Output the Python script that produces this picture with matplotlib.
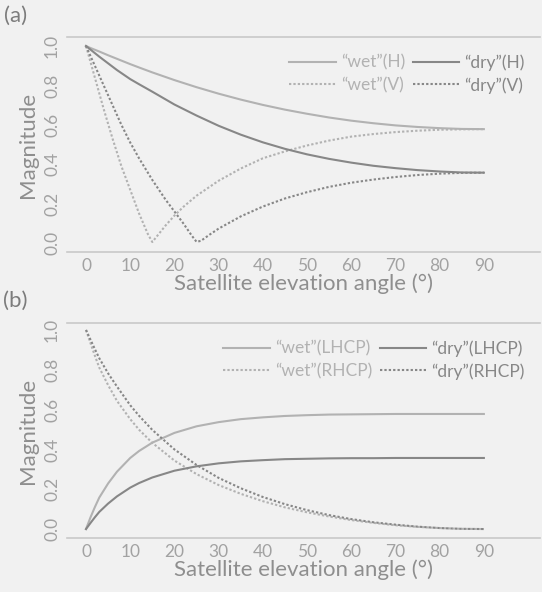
import matplotlib
matplotlib.use("Agg")
import matplotlib.pyplot as plt

# ---------------- data ----------------
ang_h = [0, 1, 2, 3, 5, 7, 10, 12, 15, 20, 25, 30, 35, 40, 45, 50, 55, 60, 65, 70, 75, 80, 85, 90]
wet_h = [1.0, .99, .981, .972, .953, .935, .908, .891, .866, .827, .791, .758, .728, .701, .677,
         .656, .637, .621, .608, .597, .589, .583, .579, .578]
dry_h = [1.0, .982, .964, .946, .912, .878, .832, .806, .768, .703, .647, .595, .550, .511, .478,
         .450, .427, .408, .392, .380, .370, .363, .358, .357]

ang_wv = [0, 2, 4, 6, 8, 10, 12, 14, 15, 16, 18, 20, 22, 25, 30, 35, 40, 45, 50, 55, 60, 65,
          70, 75, 80, 85, 90]
wet_v = [1.0, .84, .68, .53, .39, .27, .15, .045, .005, .033, .089, .139, .183, .24, .316,
         .378, .43, .465, .495, .52, .54, .553, .563, .57, .575, .577, .578]

ang_dv = [0, 2, 5, 8, 10, 12, 15, 18, 20, 22, 24, 25, 26, 28, 30, 35, 40, 45, 50, 55, 60, 65,
          70, 75, 80, 85, 90]
dry_v = [1.0, .90, .75, .60, .51, .43, .32, .22, .16, .10, .035, .006, .011, .043, .073,
         .135, .185, .226, .258, .285, .306, .322, .335, .345, .352, .356, .357]

ang_cp = [0, 1, 2, 3, 5, 7, 10, 12, 15, 20, 25, 30, 35, 40, 45, 50, 55, 60, 65, 70, 75, 80, 85, 90]
wet_lhcp = [0.0, .058, .110, .158, .229, .288, .357, .392, .434, .483, .516, .537, .552, .561,
            .568, .572, .575, .576, .577, .578, .578, .578, .578, .578]
wet_rhcp = [1.0, .935, .871, .811, .723, .644, .552, .499, .433, .344, .276, .221, .177, .140,
            .109, .084, .063, .045, .031, .019, .011, .005, .001, 0.0]
dry_lhcp = [0.0, .030, .059, .086, .128, .164, .208, .231, .259, .293, .315, .330, .340, .346,
            .351, .353, .355, .356, .356, .357, .357, .357, .357, .357]
dry_rhcp = [1.0, .952, .904, .858, .782, .716, .622, .569, .498, .400, .322, .257, .205, .161,
            .125, .095, .070, .050, .034, .022, .012, .005, .001, 0.0]

xticks = [0, 10, 20, 30, 40, 50, 60, 70, 80, 90]
yticks = [0.0, 0.2, 0.4, 0.6, 0.8, 1.0]
xlabel = "Satellite elevation angle (°)"
ylabel = "Magnitude"

# ---------------- style ----------------
FONT = ["Lato", "DejaVu Sans"]
plt.rcParams["font.family"] = FONT
BG = "#f1f1f1"
WET = "#b2b2b2"
DRY = "#878787"
TICKC = "#a2a2a2"
LABC = "#8e8e8e"
GRID = "#c9c9c9"

W, H = 542, 592
fig = plt.figure(figsize=(W / 100, H / 100), dpi=100, facecolor=BG)


def px_axes(left, top, right, bottom):
    return fig.add_axes([left / W, 1 - bottom / H, (right - left) / W, (bottom - top) / H])


def style(ax, ylim):
    ax.set_facecolor(BG)
    ax.set_xlim(-4.3, 102.7)
    ax.set_ylim(*ylim)
    for s in ("left", "right"):
        ax.spines[s].set_visible(False)
    for s in ("top", "bottom"):
        ax.spines[s].set_color(GRID)
        ax.spines[s].set_linewidth(1.2)
    ax.set_xticks(xticks)
    ax.set_xticklabels([str(t) for t in xticks])
    ax.set_yticks(yticks)
    ax.set_yticklabels([f"{t:.1f}" for t in yticks], rotation=90, va="center")
    ax.tick_params(axis="both", length=0, colors=TICKC, labelsize=12.5)
    ax.tick_params(axis="x", pad=4)
    ax.tick_params(axis="y", pad=5)
    ax.set_xlabel(xlabel, color=LABC, fontsize=16, labelpad=0)
    ax.set_ylabel(ylabel, color=LABC, fontsize=16)
    ax.yaxis.set_label_coords(-0.062, 0.5)


lw = 1.5
dot = (0, (1.1, 1.0))

LEG = dict(ncol=2, loc="upper right", bbox_to_anchor=(1.005, 1.0), frameon=False,
           fontsize=12.5, handlelength=2.7, handletextpad=0.3, columnspacing=0.4,
           labelspacing=0.35, borderaxespad=0.6, labelcolor="linecolor")

# panel (a)
axa = px_axes(67, 37, 540, 252)
style(axa, (-0.0457, 1.0457))
l1, = axa.plot(ang_h, wet_h, color=WET, lw=lw, label="“wet”(H)")
l2, = axa.plot(ang_wv, wet_v, color=WET, lw=lw, ls=dot, label="“wet”(V)")
l3, = axa.plot(ang_h, dry_h, color=DRY, lw=lw, label="“dry”(H)")
l4, = axa.plot(ang_dv, dry_v, color=DRY, lw=lw, ls=dot, label="“dry”(V)")
axa.legend(handles=[l1, l2, l3, l4], **LEG)

# panel (b)
axb = px_axes(67, 323, 540, 538)
style(axb, (-0.045, 1.035))
m1, = axb.plot(ang_cp, wet_lhcp, color=WET, lw=lw, label="“wet”(LHCP)")
m2, = axb.plot(ang_cp, wet_rhcp, color=WET, lw=lw, ls=dot, label="“wet”(RHCP)")
m3, = axb.plot(ang_cp, dry_lhcp, color=DRY, lw=lw, label="“dry”(LHCP)")
m4, = axb.plot(ang_cp, dry_rhcp, color=DRY, lw=lw, ls=dot, label="“dry”(RHCP)")
axb.legend(handles=[m1, m2, m3, m4], **LEG)

fig.text(4 / W, 1 - 16 / H, "(a)", color="#7c7c7c", fontsize=16, va="center", ha="left")
fig.text(3 / W, 1 - 301 / H, "(b)", color="#7c7c7c", fontsize=16, va="center", ha="left")

fig.savefig("out.png", dpi=100, facecolor=BG)
